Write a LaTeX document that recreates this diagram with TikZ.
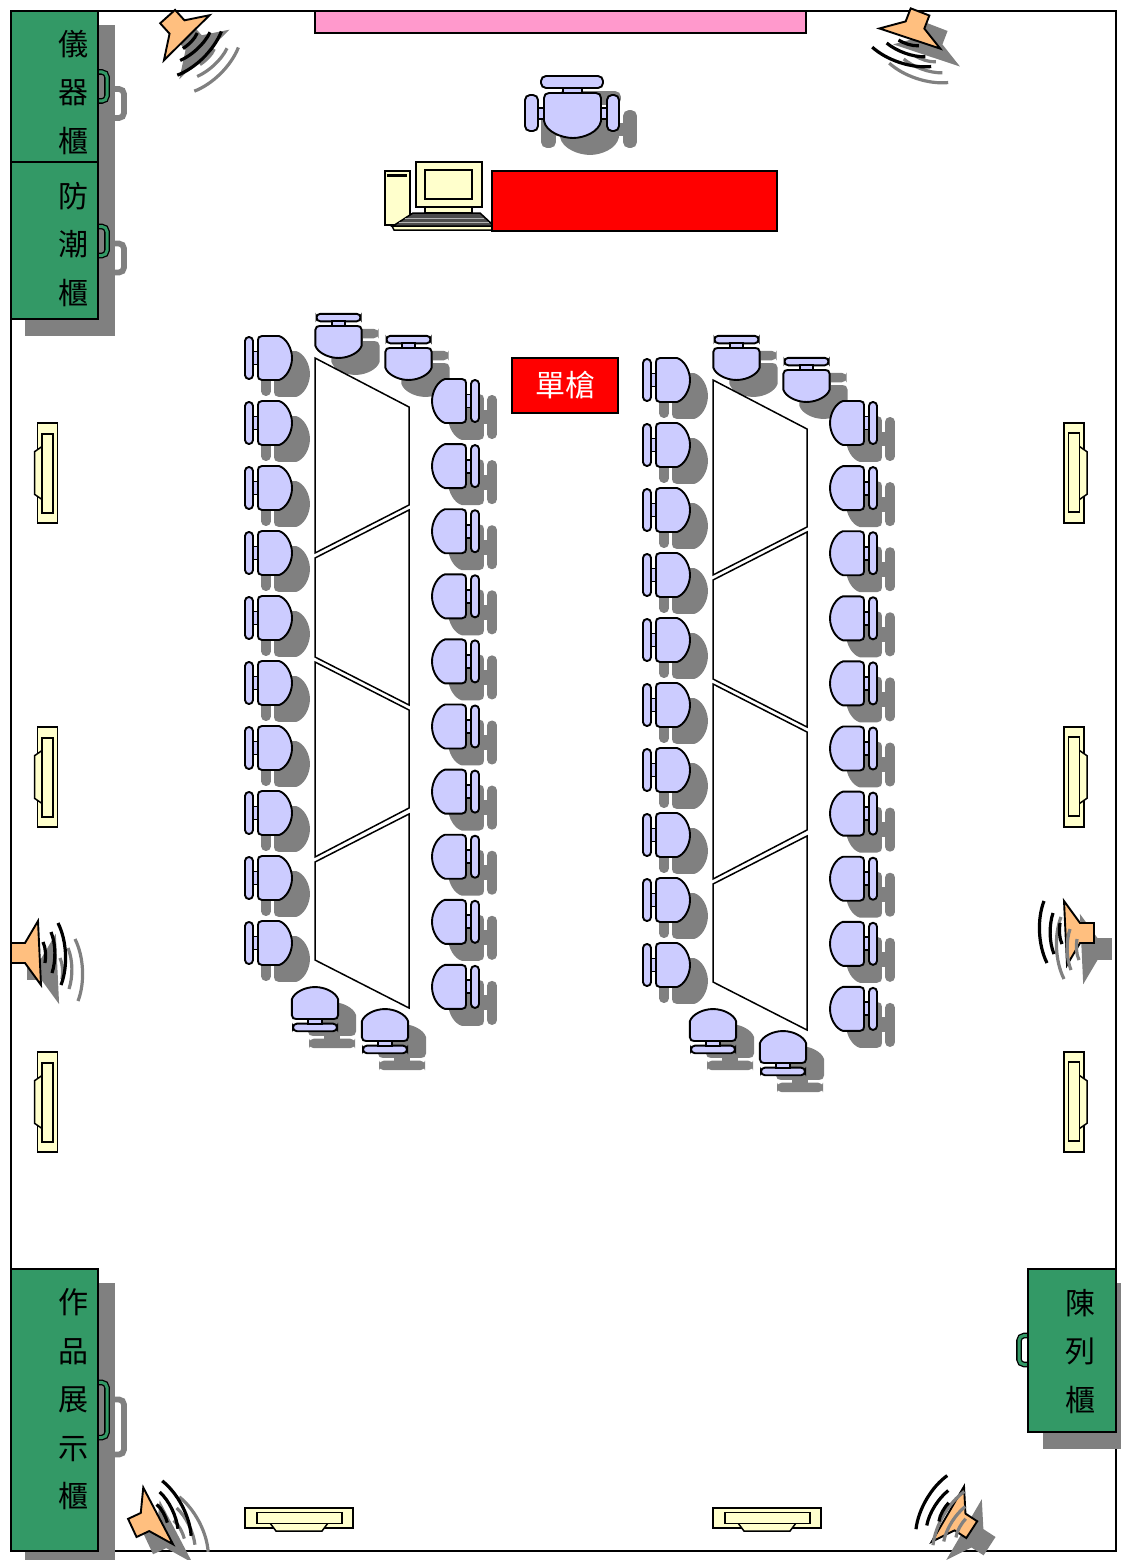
\documentclass[tikz,border=0pt]{standalone}
\usepackage{fontspec}
\newfontfamily\cjk{Noto Sans CJK TC}
\definecolor{chairblue}{HTML}{CCCCFF}
\definecolor{cream}{HTML}{FFFFCC}
\definecolor{horn}{HTML}{FFBF7F}
\definecolor{cabgreen}{HTML}{339966}
\definecolor{shadowgray}{HTML}{808080}
\definecolor{rose}{HTML}{FF99CC}

\tikzset{
    chair/.pic={
        \path[pic actions,line width=1.9pt,rounded corners=3.9pt] (-30,-21) -- (-22,-21) -- (-22,21) -- (-30,21) -- cycle;
        \path[pic actions,line width=1.9pt] (-22,-6.5) rectangle (-17,6.5);
        \path[pic actions,line width=1.9pt] (-13,-22) -- (4,-22) .. controls (11,-20) and (17,-10) .. (17,0)
            .. controls (17,10) and (11,20) .. (4,22) -- (-13,22)
            .. controls (-16,22) and (-17,20) .. (-17,18) -- (-17,-18)
            .. controls (-17,-20) and (-16,-22) .. (-13,-22) -- cycle;
    },
    armchair/.pic={
        \path[pic actions,line width=1.9pt,rounded corners=5pt] (-31,-39) rectangle (31,-27);
        \path[pic actions,line width=1.9pt] (-9,-27) rectangle (10,-22);
        \path[pic actions,line width=1.9pt,rounded corners=5pt] (-47,-20) rectangle (-34,16);
        \path[pic actions,line width=1.9pt,rounded corners=5pt] (35,-20) rectangle (47,16);
        \path[pic actions,line width=1.9pt] (-34,-7) rectangle (-28,4);
        \path[pic actions,line width=1.9pt] (29,-7) rectangle (35,4);
        \path[pic actions,line width=1.9pt] (-23,-22) -- (24,-22) .. controls (27,-22) and (29,-20) .. (29,-17) -- (29,6)
            .. controls (27,17) and (12,23) .. (1,23) .. controls (-10,23) and (-26,17) .. (-28,6)
            -- (-28,-17) .. controls (-28,-20) and (-26,-22) .. (-23,-22) -- cycle;
    },
    lamp/.pic={
        \path[pic actions] (-54,-10) rectangle (54,10);
        \path[pic actions] (-29,5) -- (-23,13) -- (23,13) -- (29,5) -- cycle;
        \path[pic actions] (-42,-5.5) rectangle (43,5.5);
    },
    horncone/.pic={
        \path[pic actions,line width=1.9pt] (-14,-10) -- (0,-10) -- (13,-32) -- (16,32) -- (0,10) -- (-14,10) -- cycle;
    },
    hornwaves/.pic={
        \path[pic actions,line width=3.2pt] (18,-11) .. controls (21,-5) and (21,4) .. (20,10);
        \path[pic actions,line width=3.2pt] (26,-21) .. controls (31,-9) and (31,8) .. (27,20);
        \path[pic actions,line width=3.2pt] (33,-30) .. controls (42,-12) and (43,14) .. (36,32);
    },
    gripfront/.pic={
        \draw[line width=1.3pt,double=cabgreen,double distance=3pt,rounded corners=5pt]
            (0,-14.5) -- (9,-14.5) -- (9,14.5) -- (0,14.5);
    },
    gripback/.pic={
        \draw[draw=shadowgray,line width=5.8pt,rounded corners=5pt]
            (0,-14.5) -- (9,-14.5) -- (9,14.5) -- (0,14.5);
    }
}

% one horn with its cast shadow: position, angle
\newcommand{\horn}[2]{
    \pic[cast,rotate=#2] at (#1) {horncone};
    \pic[hornbody,rotate=#2] at (#1) {horncone};
    \pic[draw=shadowgray,shift={(17,16)},rotate=#2] at (#1) {hornwaves};
    \pic[draw=black,rotate=#2] at (#1) {hornwaves};
}

\begin{document}
\begin{tikzpicture}[
            x = 1pt,
            y = -1pt,
            line width = 1.5pt, % outlines of everything
            cast/.style = {shift={(17,16)}, draw=shadowgray, fill=shadowgray}, % grey copy behind a shape
            seat/.style = {draw=black, fill=chairblue},
            hornbody/.style = {draw=black, fill=horn},
            lampbody/.style = {draw=black, fill=cream},
            gripcast/.style = {shift={(17,17)}},
            cabinet/.style = {draw=black, fill=cabgreen},
            desk/.style = {draw=black, fill=white, line join=miter},
            cablabel/.style = {align=center, inner sep=0pt, font=\cjk\fontsize{30}{48.5}\selectfont},
            box/.style = {draw=black, fill=cream}
        ]

        \useasboundingbox (0,0) rectangle (1121,1560);
        \draw (11,11) rectangle (1116,1551); % room

        % cabinets
        \fill[shadowgray] (25,25) rectangle (115,336);
        \fill[shadowgray] (25,1283) rectangle (115,1560);
        \fill[shadowgray] (1043,1283) rectangle (1121,1449);
        \pic[gripcast] at (98,86.5) {gripback};
        \pic[gripcast] at (98,241) {gripback};
        \pic[gripcast,yscale=1.9] at (98,1410) {gripback};
        \pic at (98,86.5) {gripfront};
        \pic at (98,241) {gripfront};
        \pic[yscale=1.9] at (98,1410) {gripfront};
        \pic[xscale=-1] at (1028,1350) {gripfront};
        \draw[cabinet] (11,11) rectangle (98,162);
        \draw[cabinet] (11,162) rectangle (98,319);
        \draw[cabinet] (11,1269) rectangle (98,1551);
        \draw[cabinet] (1028,1269) rectangle (1116,1432);
        \node[cablabel] (yiqi) at (73,92.5) {儀\\器\\櫃};
        \node[cablabel] (fangchao) at (73,244.5) {防\\潮\\櫃};
        \node[cablabel] (zuopin) at (73,1399.5) {作\\品\\展\\示\\櫃};
        \node[cablabel] (chenlie) at (1080,1351.5) {陳\\列\\櫃};

        % front of the room
        \draw[fill=rose] (315,11) rectangle (806,33);
        \pic[cast] at (572,115) {armchair};
        \pic[seat] at (572,115) {armchair};
        \draw[box] (385,171) rectangle (410,225);
        \fill (387,174) rectangle (407,177);
        \draw[box] (425,207) rectangle (472,213);
        \draw[box] (416,162) rectangle (482,207);
        \draw[box] (425,170) rectangle (472,199);
        \draw[box] (392,226) -- (492,226) -- (492,230) -- (394,230) -- cycle;
        \draw[fill=black!70] (393,226) -- (413,213) -- (480,213) -- (494,226) -- cycle;
        \draw[white!70!black,line width=.7pt] (405,218) -- (484,218);
        \draw[white!70!black,line width=.7pt] (399,222) -- (489,222);
        \draw[fill=red] (492,171) rectangle (777,231);
        \node[draw=black, fill=red, text=white, minimum width=106pt, minimum height=55pt,
            inner sep=0pt, font=\cjk\fontsize{30}{30}\selectfont] (projector) at (565,385.5) {單槍};

        % the two rows of desks
        \foreach \dx/\dy in {0/0, 398/22} {
            \begin{scope}[shift={(\dx,\dy)}]
                \foreach \s in {cast, seat} {
                    \foreach \row in {0,...,9} {
                        \pic[\s] at ({275},{358+65*\row}) {chair};
                        \pic[\s,rotate=180] at ({449},{401+65.1*\row}) {chair};
                    }
                    \pic[\s,rotate=-90,xscale=.94,yscale=1.05] at (338.5,342) {chair};
                    \pic[\s,rotate=-90,xscale=.94,yscale=1.05] at (408.5,364) {chair};
                    \pic[\s,rotate=90,xscale=.94,yscale=1.05] at (315,1003) {chair};
                    \pic[\s,rotate=90,xscale=.94,yscale=1.05] at (385,1025) {chair};
                }
                \draw[desk] (315,358) -- (409,407) -- (409,505) -- (315,553) -- cycle;
                \draw[desk] (315,558) -- (409,510) -- (409,705) -- (315,657) -- cycle;
                \draw[desk] (315,662) -- (409,710) -- (409,808) -- (315,857) -- cycle;
                \draw[desk] (315,862) -- (409,814) -- (409,1008) -- (315,960) -- cycle;
            \end{scope}
        }

        % wall lamps
        \foreach \ypos in {473, 777, 1102} {
            \pic[lampbody,rotate=-90,xscale=.925] at (47.5,\ypos) {lamp};
            \pic[lampbody,rotate=90,xscale=.925] at (1074,\ypos) {lamp};
        }
        \pic[lampbody] at (299,1518) {lamp};
        \pic[lampbody] at (767,1518) {lamp};

        % horns
        \horn{177,27}{-48}
        \horn{915,25}{-111}
        \horn{25,953}{0}
        \horn{1080,933}{180}
        \horn{145,1522}{25}
        \horn{960,1522}{147}

  \end{tikzpicture}
\end{document}
